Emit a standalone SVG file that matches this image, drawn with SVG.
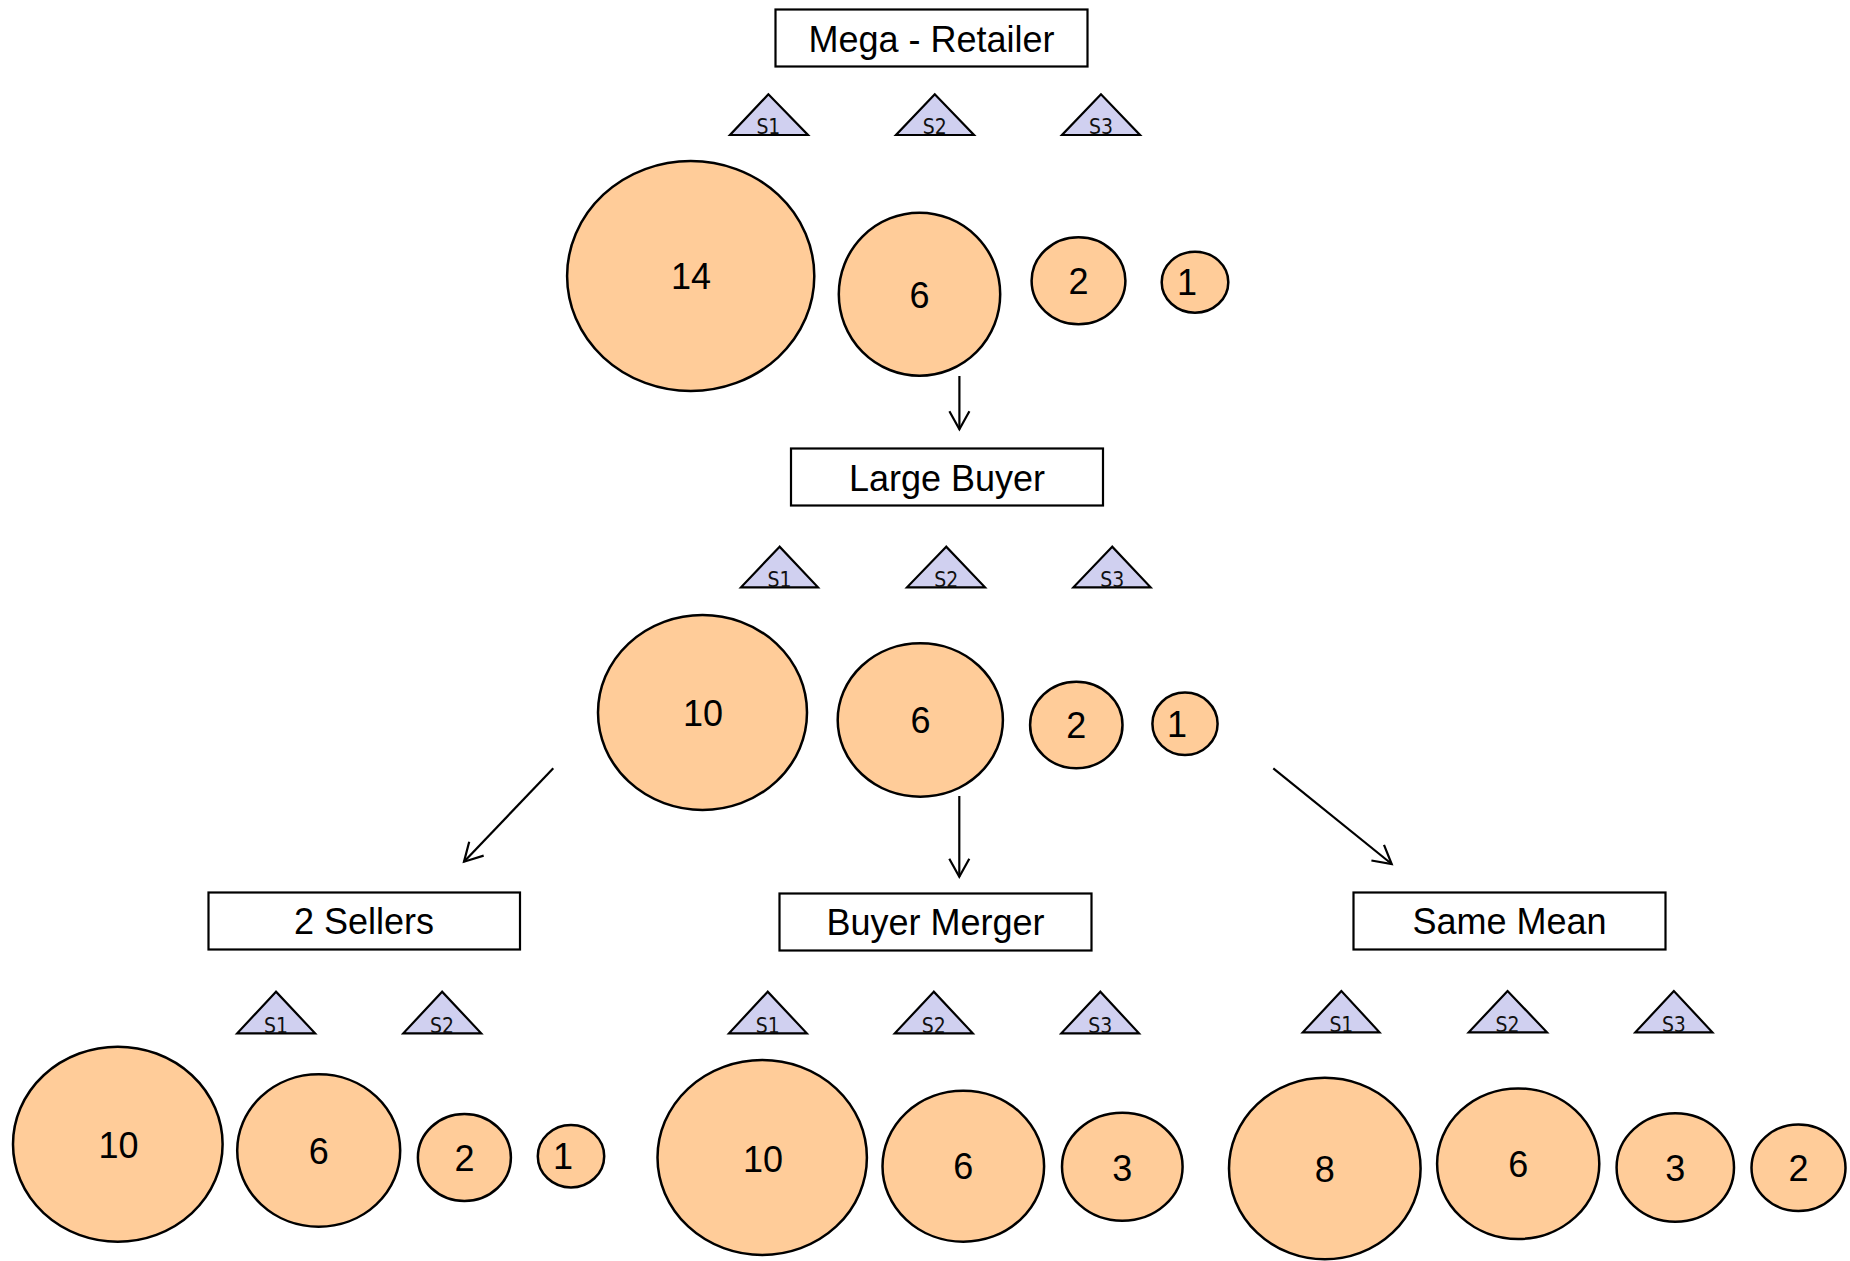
<svg xmlns="http://www.w3.org/2000/svg" width="1850" height="1261" viewBox="0 0 1850 1261">
<style>
.box{fill:#fff;stroke:#000;stroke-width:2.2}
.lbl{font-family:"Liberation Sans",Arial,sans-serif;font-size:36px;fill:#000;text-anchor:middle}
.tri{fill:#d0d0f0;stroke:#000;stroke-width:2.2;stroke-linejoin:miter}
.tl{font-family:"DejaVu Sans",sans-serif;font-size:21px;fill:#111;text-anchor:middle}
.c{fill:#ffcc99;stroke:#000;stroke-width:2.5}
.n{font-family:"Liberation Sans",Arial,sans-serif;font-size:36px;fill:#000;text-anchor:middle}
.con{stroke:#000;stroke-width:2.2;fill:none}
</style>
<defs>
<marker id="arr" markerUnits="userSpaceOnUse" markerWidth="24" markerHeight="24" viewBox="-20 -12 24 24" refX="0" refY="0" orient="auto">
<path d="M-18,-10 L0,0 L-18,10" fill="none" stroke="#000" stroke-width="2.2"/>
</marker>
</defs>
<rect width="1850" height="1261" fill="#fff"/>

<!-- Mega-Retailer -->
<g id="mega-retailer">
<rect class="box" x="775.5" y="9.5" width="312" height="57"/>
<text class="lbl" x="931.5" y="52.3">Mega - Retailer</text>
</g>
<g id="mr-s1"><polygon class="tri" points="768.4,94.3 730,135 808,135"/><text class="tl" x="768.4" y="134" textLength="24" lengthAdjust="spacingAndGlyphs">S1</text></g>
<g id="mr-s2"><polygon class="tri" points="934.8,94.3 896,135 974,135"/><text class="tl" x="934.8" y="134" textLength="24" lengthAdjust="spacingAndGlyphs">S2</text></g>
<g id="mr-s3"><polygon class="tri" points="1101,94.3 1062,135 1140,135"/><text class="tl" x="1101" y="134" textLength="24" lengthAdjust="spacingAndGlyphs">S3</text></g>
<g id="mr-b14"><ellipse class="c" cx="690.7" cy="276" rx="123.6" ry="115"/><text class="n" x="691" y="289.3">14</text></g>
<g id="mr-b6"><ellipse class="c" cx="919.5" cy="294.2" rx="80.7" ry="81.5"/><text class="n" x="919.5" y="308.3">6</text></g>
<g id="mr-b2"><ellipse class="c" cx="1078.5" cy="280.8" rx="46.9" ry="43.5"/><text class="n" x="1078.5" y="294.3">2</text></g>
<g id="mr-b1"><ellipse class="c" cx="1195" cy="282.2" rx="33.3" ry="30.5"/><text class="n" x="1187" y="295">1</text></g>

<!-- Large Buyer -->
<g id="large-buyer">
<rect class="box" x="791" y="448.5" width="312" height="57"/>
<text class="lbl" x="947" y="491">Large Buyer</text>
</g>
<g id="lb-s1"><polygon class="tri" points="779.6,546.7 741,587.3 818,587.3"/><text class="tl" x="779.6" y="586.5" textLength="24" lengthAdjust="spacingAndGlyphs">S1</text></g>
<g id="lb-s2"><polygon class="tri" points="946.2,546.7 907,587.3 985,587.3"/><text class="tl" x="946.2" y="586.5" textLength="24" lengthAdjust="spacingAndGlyphs">S2</text></g>
<g id="lb-s3"><polygon class="tri" points="1112.2,546.7 1073.4,587.3 1150.6,587.3"/><text class="tl" x="1112.2" y="586.5" textLength="24" lengthAdjust="spacingAndGlyphs">S3</text></g>
<g id="lb-b10"><ellipse class="c" cx="702.5" cy="712.5" rx="104.5" ry="97.5"/><text class="n" x="703" y="725.7">10</text></g>
<g id="lb-b6"><ellipse class="c" cx="920.3" cy="720" rx="82.6" ry="76.7"/><text class="n" x="920.5" y="732.7">6</text></g>
<g id="lb-b2"><ellipse class="c" cx="1076.3" cy="725" rx="46.2" ry="43.3"/><text class="n" x="1076.3" y="738.3">2</text></g>
<g id="lb-b1"><ellipse class="c" cx="1185" cy="723.8" rx="32.6" ry="31.2"/><text class="n" x="1177" y="736.7">1</text></g>

<!-- 2 Sellers -->
<g id="two-sellers">
<rect class="box" x="208.5" y="892.5" width="311.5" height="57"/>
<text class="lbl" x="364" y="934">2 Sellers</text>
</g>
<g id="ts-s1"><polygon class="tri" points="276,991.7 237.2,1033.3 315.1,1033.3"/><text class="tl" x="276" y="1032.5" textLength="24" lengthAdjust="spacingAndGlyphs">S1</text></g>
<g id="ts-s2"><polygon class="tri" points="442.1,991.7 403.3,1033.3 481.2,1033.3"/><text class="tl" x="442.1" y="1032.5" textLength="24" lengthAdjust="spacingAndGlyphs">S2</text></g>
<g id="ts-b10"><ellipse class="c" cx="117.8" cy="1144.2" rx="104.8" ry="97.5"/><text class="n" x="118.5" y="1158.3">10</text></g>
<g id="ts-b6"><ellipse class="c" cx="318.7" cy="1150.5" rx="81.5" ry="76.2"/><text class="n" x="318.7" y="1164">6</text></g>
<g id="ts-b2"><ellipse class="c" cx="464.4" cy="1157.5" rx="46.5" ry="43.5"/><text class="n" x="464.4" y="1170.7">2</text></g>
<g id="ts-b1"><ellipse class="c" cx="571" cy="1156.2" rx="33.2" ry="31.2"/><text class="n" x="563" y="1169">1</text></g>

<!-- Buyer Merger -->
<g id="buyer-merger">
<rect class="box" x="779.5" y="893.5" width="312" height="57"/>
<text class="lbl" x="935.5" y="935">Buyer Merger</text>
</g>
<g id="bm-s1"><polygon class="tri" points="767.7,991.7 729,1033.3 806.8,1033.3"/><text class="tl" x="767.7" y="1032.5" textLength="24" lengthAdjust="spacingAndGlyphs">S1</text></g>
<g id="bm-s2"><polygon class="tri" points="933.8,991.7 894.8,1033.3 972.8,1033.3"/><text class="tl" x="933.8" y="1032.5" textLength="24" lengthAdjust="spacingAndGlyphs">S2</text></g>
<g id="bm-s3"><polygon class="tri" points="1100.3,991.7 1061.3,1033.3 1139,1033.3"/><text class="tl" x="1100.3" y="1032.5" textLength="24" lengthAdjust="spacingAndGlyphs">S3</text></g>
<g id="bm-b10"><ellipse class="c" cx="762.2" cy="1157.5" rx="104.7" ry="97.5"/><text class="n" x="763" y="1171.7">10</text></g>
<g id="bm-b6"><ellipse class="c" cx="963.3" cy="1166.2" rx="80.8" ry="75.5"/><text class="n" x="963.3" y="1179.3">6</text></g>
<g id="bm-b3"><ellipse class="c" cx="1122.3" cy="1166.7" rx="60.3" ry="54"/><text class="n" x="1122.3" y="1180.7">3</text></g>

<!-- Same Mean -->
<g id="same-mean">
<rect class="box" x="1353.5" y="892.5" width="312" height="57"/>
<text class="lbl" x="1509.5" y="934.3">Same Mean</text>
</g>
<g id="sm-s1"><polygon class="tri" points="1341.4,991 1302.8,1032.3 1379.5,1032.3"/><text class="tl" x="1341.4" y="1031.5" textLength="24" lengthAdjust="spacingAndGlyphs">S1</text></g>
<g id="sm-s2"><polygon class="tri" points="1507.6,991 1468.7,1032.3 1547,1032.3"/><text class="tl" x="1507.6" y="1031.5" textLength="24" lengthAdjust="spacingAndGlyphs">S2</text></g>
<g id="sm-s3"><polygon class="tri" points="1673.9,991 1635.3,1032.3 1712.4,1032.3"/><text class="tl" x="1673.9" y="1031.5" textLength="24" lengthAdjust="spacingAndGlyphs">S3</text></g>
<g id="sm-b8"><ellipse class="c" cx="1324.8" cy="1168.5" rx="95.8" ry="90.8"/><text class="n" x="1324.8" y="1182.3">8</text></g>
<g id="sm-b6"><ellipse class="c" cx="1518.2" cy="1163.7" rx="81.1" ry="75.3"/><text class="n" x="1518.2" y="1177.3">6</text></g>
<g id="sm-b3"><ellipse class="c" cx="1675.3" cy="1167.5" rx="58.7" ry="54.2"/><text class="n" x="1675.3" y="1180.7">3</text></g>
<g id="sm-b2"><ellipse class="c" cx="1798.5" cy="1167.7" rx="47" ry="43.3"/><text class="n" x="1798.5" y="1180.7">2</text></g>

<!-- Connectors -->
<g id="connectors">
<line class="con" x1="959.4" y1="376" x2="959.4" y2="429.3" marker-end="url(#arr)"/>
<line class="con" x1="959.3" y1="796" x2="959.3" y2="876.7" marker-end="url(#arr)"/>
<line class="con" x1="553.3" y1="768.3" x2="464" y2="861.7" marker-end="url(#arr)"/>
<line class="con" x1="1273.3" y1="768.3" x2="1391.7" y2="864" marker-end="url(#arr)"/>
</g>
</svg>
